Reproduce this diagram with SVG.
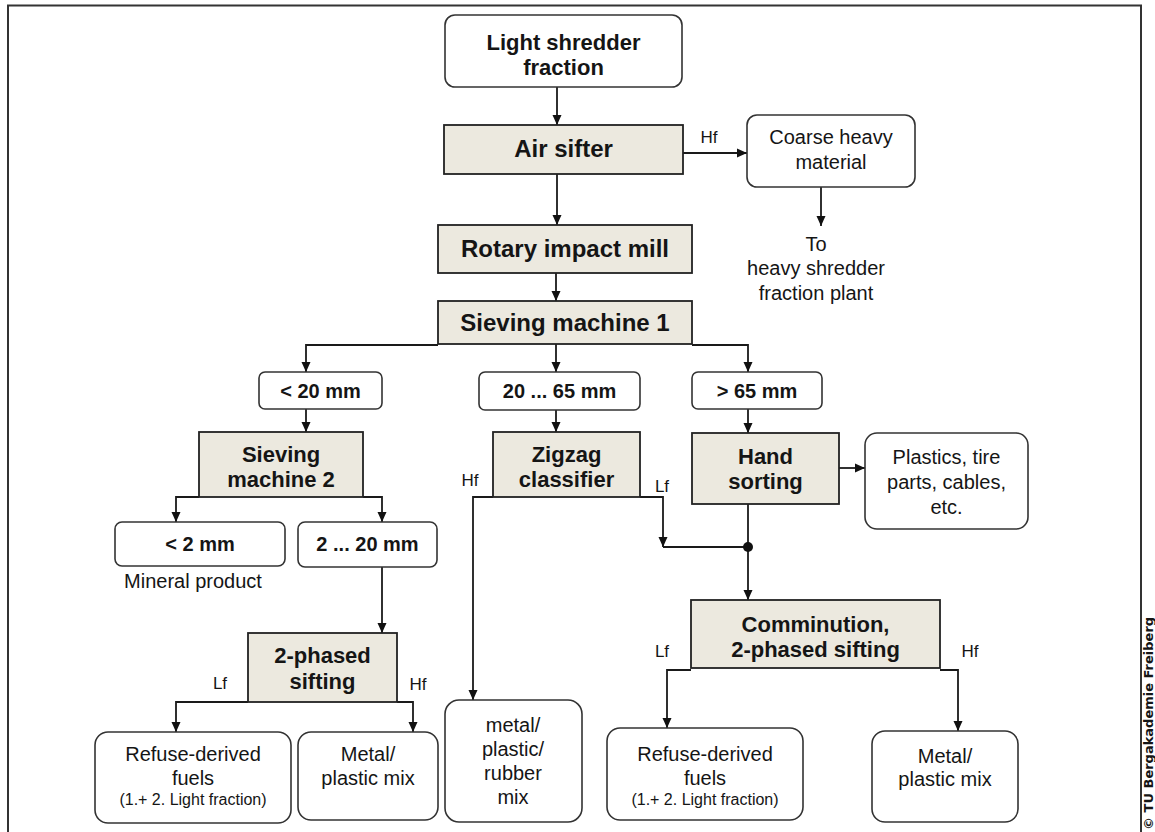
<svg xmlns="http://www.w3.org/2000/svg" width="1155" height="832" viewBox="0 0 1155 832">
<defs>
<marker id="ah" markerWidth="10" markerHeight="10" refX="10" refY="5" orient="auto" markerUnits="userSpaceOnUse"><path d="M0,0.5 L10,5 L0,9.5 z" fill="#111"/></marker>
<style>
.proc{fill:#ECE9DF;stroke:#222;stroke-width:1.8}
.rbox{fill:#fff;stroke:#333;stroke-width:1.6}
text{font-family:"Liberation Sans",Arial,sans-serif;fill:#151515;text-anchor:middle}
.b24{font-size:24px;font-weight:bold}
.b22{font-size:22px;font-weight:bold}
.b20{font-size:20px;font-weight:bold}
.r20{font-size:20px}
.r17{font-size:17px}
.s16{font-size:16px}
.conn path{fill:none;stroke:#1a1a1a;stroke-width:1.8}
.conn .a{marker-end:url(#ah)}
</style>
</defs>
<rect width="1155" height="832" fill="#fff"/>
<path d="M8,840 V5.5 H1141 V840" fill="none" stroke="#333" stroke-width="2"/>
<text transform="translate(1153,830) rotate(-90)" style="font-family:'DejaVu Sans',sans-serif;font-size:13px;font-weight:bold;text-anchor:start">© TU Bergakademie Freiberg</text>

<g class="conn">
<path class="a" d="M557,87 V125"/>
<path class="a" d="M683,153 H747"/>
<path class="a" d="M821,187 V226"/>
<path class="a" d="M557,174 V225"/>
<path class="a" d="M556,273 V301"/>
<path class="a" d="M438,345 H306 V372"/>
<path class="a" d="M556,344 V372"/>
<path class="a" d="M692,345 H748 V372"/>
<path class="a" d="M306,409 V432"/>
<path class="a" d="M556,410 V432"/>
<path class="a" d="M748,409 V433"/>
<path class="a" d="M199,497 H176 V522"/>
<path class="a" d="M363,497 H382 V522"/>
<path class="a" d="M382,567 V633"/>
<path class="a" d="M248,702 H176 V732"/>
<path class="a" d="M397,702 H413 V732"/>
<path class="a" d="M493,497 H473 V700"/>
<path class="a" d="M640,497 H663 V547"/>
<path d="M663,547 H748"/>
<path class="a" d="M748,504 V600"/>
<circle cx="748" cy="547" r="5" fill="#111"/>
<path class="a" d="M839,468 H865"/>
<path class="a" d="M691,670 H667 V728"/>
<path class="a" d="M940,670 H958 V731"/>
<text class="r17" x="709" y="143">Hf</text>
<text class="r17" x="470" y="486">Hf</text>
<text class="r17" x="662" y="492">Lf</text>
<text class="r17" x="220" y="689">Lf</text>
<text class="r17" x="418" y="690">Hf</text>
<text class="r17" x="662" y="657">Lf</text>
<text class="r17" x="970" y="657">Hf</text>
</g>

<g id="light-shredder-fraction">
<rect class="rbox" x="445" y="15" width="237" height="72" rx="10"/>
<text class="b22" x="563.5" y="50">Light shredder</text>
<text class="b22" x="563.5" y="75">fraction</text>
</g>
<g id="air-sifter">
<rect class="proc" x="444" y="125" width="239" height="49"/>
<text class="b24" x="563.5" y="157">Air sifter</text>
</g>
<g id="coarse-heavy-material">
<rect class="rbox" x="747" y="115" width="168" height="72" rx="10"/>
<text class="r20" x="831" y="144">Coarse heavy</text>
<text class="r20" x="831" y="169">material</text>
</g>
<g id="to-heavy-plant">
<text class="r20" x="816" y="251">To</text>
<text class="r20" x="816" y="275">heavy shredder</text>
<text class="r20" x="816" y="300">fraction plant</text>
</g>
<g id="rotary-impact-mill">
<rect class="proc" x="438" y="225" width="254" height="48"/>
<text class="b24" x="565" y="257">Rotary impact mill</text>
</g>
<g id="sieving-machine-1">
<rect class="proc" x="438" y="301" width="254" height="43"/>
<text class="b24" x="565" y="331">Sieving machine 1</text>
</g>
<g id="lt20">
<rect class="rbox" x="259" y="372" width="123" height="37" rx="6"/>
<text class="b20" x="320.5" y="398">&lt; 20 mm</text>
</g>
<g id="20to65">
<rect class="rbox" x="479" y="372" width="161" height="38" rx="6"/>
<text class="b20" x="559.5" y="398">20 ... 65 mm</text>
</g>
<g id="gt65">
<rect class="rbox" x="692" y="372" width="130" height="37" rx="6"/>
<text class="b20" x="757" y="398">&gt; 65 mm</text>
</g>
<g id="sieving-machine-2">
<rect class="proc" x="199" y="432" width="164" height="65"/>
<text class="b22" x="281" y="462">Sieving</text>
<text class="b22" x="281" y="487">machine 2</text>
</g>
<g id="zigzag-classifier">
<rect class="proc" x="493" y="432" width="147" height="65"/>
<text class="b22" x="566.5" y="462">Zigzag</text>
<text class="b22" x="566.5" y="487">classifier</text>
</g>
<g id="hand-sorting">
<rect class="proc" x="692" y="433" width="147" height="71"/>
<text class="b22" x="765.5" y="464">Hand</text>
<text class="b22" x="765.5" y="489">sorting</text>
</g>
<g id="plastics">
<rect class="rbox" x="865" y="433" width="163" height="96" rx="12"/>
<text class="r20" x="946.5" y="464">Plastics, tire</text>
<text class="r20" x="946.5" y="489">parts, cables,</text>
<text class="r20" x="946.5" y="514">etc.</text>
</g>
<g id="lt2">
<rect class="rbox" x="115" y="522" width="170" height="44" rx="7"/>
<text class="b20" x="200" y="551">&lt; 2 mm</text>
<text class="r20" x="193" y="588">Mineral product</text>
</g>
<g id="2to20">
<rect class="rbox" x="298" y="522" width="139" height="45" rx="7"/>
<text class="b20" x="367.5" y="551">2 ... 20 mm</text>
</g>
<g id="2-phased-sifting">
<rect class="proc" x="248" y="633" width="149" height="69"/>
<text class="b22" x="322.5" y="663">2-phased</text>
<text class="b22" x="322.5" y="689">sifting</text>
</g>
<g id="comminution">
<rect class="proc" x="691" y="600" width="249" height="68"/>
<text class="b22" x="815.5" y="632">Comminution,</text>
<text class="b22" x="815.5" y="657">2-phased sifting</text>
</g>
<g id="rdf-left">
<rect class="rbox" x="95" y="732" width="196" height="91" rx="13"/>
<text class="r20" x="193" y="761">Refuse-derived</text>
<text class="r20" x="193" y="785">fuels</text>
<text class="s16" x="193" y="805">(1.+ 2. Light fraction)</text>
</g>
<g id="metal-plastic-left">
<rect class="rbox" x="298" y="732" width="140" height="88" rx="13"/>
<text class="r20" x="368" y="761">Metal/</text>
<text class="r20" x="368" y="785">plastic mix</text>
</g>
<g id="metal-plastic-rubber">
<rect class="rbox" x="445" y="700" width="137" height="122" rx="14"/>
<text class="r20" x="513" y="732">metal/</text>
<text class="r20" x="513" y="756">plastic/</text>
<text class="r20" x="513" y="780">rubber</text>
<text class="r20" x="513" y="804">mix</text>
</g>
<g id="rdf-right">
<rect class="rbox" x="607" y="728" width="196" height="92" rx="13"/>
<text class="r20" x="705" y="761">Refuse-derived</text>
<text class="r20" x="705" y="785">fuels</text>
<text class="s16" x="705" y="805">(1.+ 2. Light fraction)</text>
</g>
<g id="metal-plastic-right">
<rect class="rbox" x="872" y="731" width="146" height="91" rx="13"/>
<text class="r20" x="945" y="763">Metal/</text>
<text class="r20" x="945" y="786">plastic mix</text>
</g>
</svg>
